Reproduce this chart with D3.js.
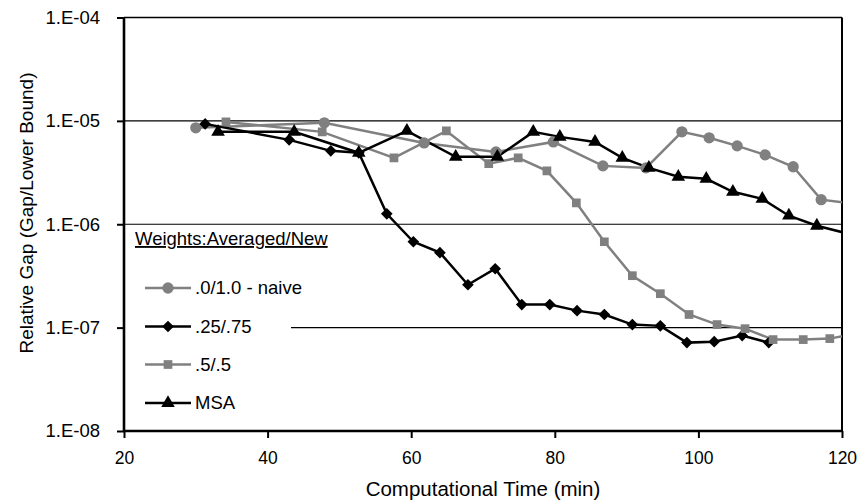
<!DOCTYPE html>
<html>
<head>
<meta charset="utf-8">
<script src="https://cdn.jsdelivr.net/npm/d3@7"></script>
<style>
  body { margin: 0; background: #fff; }
  text { font-family: "Liberation Sans", Arial, sans-serif; fill: #000; }
</style>
</head>
<body>
<div id="chart"></div>
<script>
// data: [time (min), relative gap]
var naive = [[30.0,8.56e-6],[47.9,9.57e-6],[61.8,6.12e-6],[71.8,5.01e-6],[79.8,6.26e-6],[86.7,3.67e-6],
  [92.7,3.51e-6],[97.7,7.83e-6],[101.5,6.86e-6],[105.4,5.73e-6],[109.3,4.69e-6],[113.2,3.60e-6],[117.1,1.73e-6],[121.5,1.58e-6]];
var w25 = [[31.3,9.35e-6],[43.0,6.55e-6],[48.8,5.13e-6],[52.7,4.91e-6],[56.6,1.26e-6],[60.3,6.77e-7],
  [64.0,5.31e-7],[67.9,2.60e-7],[71.7,3.71e-7],[75.4,1.67e-7],[79.3,1.67e-7],[83.1,1.46e-7],[86.9,1.34e-7],
  [90.8,1.07e-7],[94.7,1.04e-7],[98.4,7.16e-8],[102.2,7.32e-8],[106.1,8.37e-8],[109.8,7.16e-8]];
var w50 = [[34.2,9.77e-6],[47.6,7.83e-6],[57.6,4.39e-6],[64.9,8.00e-6],[70.8,3.85e-6],[74.9,4.39e-6],
  [78.9,3.29e-6],[83.0,1.61e-6],[86.9,6.77e-7],[90.8,3.18e-7],[94.7,2.13e-7],[98.7,1.34e-7],[102.6,1.07e-7],
  [106.5,9.77e-8],[110.4,7.66e-8],[114.6,7.66e-8],[118.3,7.83e-8],[122.2,8.8e-8]];
var msa = [[33.1,7.83e-6],[43.7,7.83e-6],[52.7,4.91e-6],[59.4,8.0e-6],[66.2,4.49e-6],[72.0,4.49e-6],
  [77.0,7.83e-6],[80.7,7.0e-6],[85.6,6.26e-6],[89.4,4.39e-6],[93.1,3.51e-6],[97.2,2.88e-6],[101.1,2.75e-6],
  [104.8,2.06e-6],[108.9,1.76e-6],[112.6,1.21e-6],[116.5,9.68e-7],[122.5,7.57e-7]];

var seriesNames = [".0/1.0 - naive", ".25/.75", ".5/.5", "MSA"];
var xTicks = [20, 40, 60, 80, 100, 120];
var yTicks = [1e-8, 1e-7, 1e-6, 1e-5, 1e-4];
var yTickLabels = ["1.E-08", "1.E-07", "1.E-06", "1.E-05", "1.E-04"];

var W = 860, H = 502;
var margin = {top: 17.5, right: 18, bottom: 71, left: 124};

var svg = d3.select("#chart").append("svg").attr("width", W).attr("height", H);

var x = d3.scaleLinear().domain([20, 120]).range([margin.left, W - margin.right]);
var y = d3.scaleLog().domain([1e-8, 1e-4]).range([H - margin.bottom, margin.top]);

var gray = "#808080";
var series = [
  {name: seriesNames[0], data: naive, color: gray, sym: d3.symbolCircle, size: 100, rot: 0},
  {name: seriesNames[1], data: w25, color: "#000", sym: d3.symbolSquare, size: 68, rot: 45},
  {name: seriesNames[2], data: w50, color: gray, sym: d3.symbolSquare, size: 76, rot: 0},
  {name: seriesNames[3], data: msa, color: "#000", sym: d3.symbolTriangle, size: 80, rot: 0}
];

// gridlines
svg.append("g").selectAll("line").data(yTicks.slice(1, 4)).enter().append("line")
  .attr("x1", x(20)).attr("x2", x(120))
  .attr("y1", d => y(d)).attr("y2", d => y(d))
  .attr("stroke", "#000").attr("stroke-width", 1.2);

// top & right border
svg.append("line").attr("x1", x(20)).attr("x2", x(120)).attr("y1", y(1e-4)).attr("y2", y(1e-4))
  .attr("stroke", "#000").attr("stroke-width", 1.5);
svg.append("line").attr("x1", x(120)).attr("x2", x(120)).attr("y1", y(1e-4)).attr("y2", y(1e-8))
  .attr("stroke", "#000").attr("stroke-width", 2);

// legend background hides gridline
svg.append("rect").attr("x", x(20) + 1).attr("y", 229).attr("width", 166).attr("height", 190).attr("fill", "#fff");

// series
svg.append("clipPath").attr("id", "clip").append("rect")
  .attr("x", x(20)).attr("y", y(1e-4)).attr("width", x(120) - x(20)).attr("height", y(1e-8) - y(1e-4));

var line = d3.line().x(d => x(d[0])).y(d => y(d[1]));
var plot = svg.append("g").attr("clip-path", "url(#clip)");

series.forEach(function(s) {
  plot.append("path").datum(s.data).attr("d", line)
    .attr("fill", "none").attr("stroke", s.color).attr("stroke-width", 2.5);
});
series.forEach(function(s) {
  plot.selectAll(null).data(s.data).enter().append("path")
    .attr("d", d3.symbol().type(s.sym).size(s.size))
    .attr("transform", d => "translate(" + x(d[0]) + "," + y(d[1]) + ") rotate(" + s.rot + ")")
    .attr("fill", s.color);
});

// axes
var xAxis = svg.append("g").attr("transform", "translate(0," + y(1e-8) + ")")
  .call(d3.axisBottom(x).tickValues(xTicks).tickSize(7).tickPadding(14).tickFormat(d3.format("d")));
var yAxis = svg.append("g").attr("transform", "translate(" + x(20) + ",0)")
  .call(d3.axisLeft(y).tickValues(yTicks).tickSize(7).tickPadding(17).tickFormat((d, i) => yTickLabels[i]));
[xAxis, yAxis].forEach(function(a) {
  a.select(".domain").attr("stroke", "#000").attr("stroke-width", 2.6);
  a.selectAll(".tick line").attr("stroke", "#000").attr("stroke-width", 2);
  a.selectAll(".tick text").attr("font-size", 17.5).attr("font-family", "Liberation Sans, Arial, sans-serif");
});
yAxis.selectAll(".tick text").attr("font-size", 18.5);
yAxis.select(".domain").attr("d", "M0," + y(1e-4) + "V" + y(1e-8));
xAxis.select(".domain").attr("d", "M" + x(20) + ",0H" + x(120));

// axis titles
svg.append("text").attr("x", (x(20) + x(120)) / 2).attr("y", 496).attr("text-anchor", "middle")
  .attr("font-size", 20.5).text("Computational Time (min)");
svg.append("text").attr("transform", "translate(33," + 213 + ") rotate(-90)").attr("text-anchor", "middle")
  .attr("font-size", 19).text("Relative Gap (Gap/Lower Bound)");

// legend
svg.append("text").attr("x", 135).attr("y", 245).attr("font-size", 18.5)
  .attr("text-decoration", "underline").text("Weights:Averaged/New");
var rowY = [288, 326.5, 364.5, 403];
series.forEach(function(s, i) {
  var g = svg.append("g").attr("transform", "translate(0," + rowY[i] + ")");
  g.append("line").attr("x1", 145).attr("x2", 191).attr("stroke", s.color).attr("stroke-width", 2.3);
  g.append("path").attr("d", d3.symbol().type(s.sym).size(s.size))
    .attr("transform", "translate(168,0) rotate(" + s.rot + ")").attr("fill", s.color);
  g.append("text").attr("x", 195).attr("dy", "0.35em").attr("font-size", 18.5).text(s.name);
});
</script>
</body>
</html>
